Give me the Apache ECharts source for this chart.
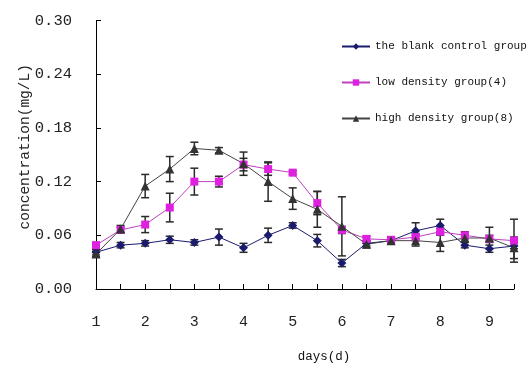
<!DOCTYPE html>
<html><head><meta charset="utf-8">
<script src="https://cdn.jsdelivr.net/npm/echarts@6/dist/echarts.min.js"></script>
<style>html,body{margin:0;padding:0;background:#fff}#c{width:531px;height:368px}</style>
</head><body><div id="c"></div>
<script>
const days = [1,1.5,2,2.5,3,3.5,4,4.5,5,5.5,6,6.5,7,7.5,8,8.5,9,9.5];
const xTickLabels = ['1','2','3','4','5','6','7','8','9'];
const seriesNames = ['the blank control group','low density group(4)','high density group(8)'];
const blank = [0.041,0.049,0.051,0.055,0.052,0.058,0.046,0.060,0.071,0.054,0.029,0.051,0.054,0.065,0.071,0.049,0.045,0.048];
const blankErr = [0.003,0.003,0.003,0.004,0.003,0.009,0.005,0.008,0.003,0.007,0.004,0.003,0.003,0.009,0.007,0.003,0.004,0.003];
const low = [0.049,0.066,0.072,0.091,0.120,0.120,0.139,0.134,0.130,0.096,0.066,0.056,0.055,0.058,0.064,0.060,0.056,0.054];
const lowErr = [0.003,0.003,0.009,0.016,0.015,0.006,0.007,0.007,0.002,0.013,0.004,0.003,0.003,0.004,0.004,0.004,0.004,0.024];
const high = [0.039,0.067,0.115,0.134,0.157,0.155,0.140,0.120,0.101,0.089,0.070,0.050,0.054,0.054,0.052,0.057,0.057,0.046];
const highErr = [0.003,0.004,0.013,0.014,0.007,0.003,0.013,0.022,0.012,0.020,0.033,0.004,0.004,0.006,0.010,0.004,0.012,0.012];

const chart = echarts.init(document.getElementById('c'));
const mono = 'Liberation Mono';
function pts(v){ return days.map((d,i)=>[d,v[i]]); }
function errData(v,e){ return days.map((d,i)=>[d,v[i]-e[i],v[i]+e[i]]); }
function errSeries(v,e){
  return {
    type:'custom', silent:true, z:1,
    data: errData(v,e),
    renderItem: function(params, api){
      const x = api.value(0);
      const lo = api.coord([x, api.value(1)]);
      const hi = api.coord([x, api.value(2)]);
      const w = 4;
      const st = {stroke:'#2a2a2a', lineWidth:1.5};
      return {type:'group', children:[
        {type:'line', shape:{x1:lo[0],y1:lo[1],x2:hi[0],y2:hi[1]}, style:st},
        {type:'line', shape:{x1:lo[0]-w,y1:lo[1],x2:lo[0]+w,y2:lo[1]}, style:st},
        {type:'line', shape:{x1:hi[0]-w,y1:hi[1],x2:hi[0]+w,y2:hi[1]}, style:st}
      ]};
    }
  };
}
const colors = ['#1b1b6e','#e020e0','#333333'];
chart.setOption({
  animation:false,
  backgroundColor:'#ffffff',
  grid:{left:96, right:17, top:20.5, bottom:77},
  legend:{
    data:seriesNames, orient:'vertical', left:336, top:36,
    itemWidth:28, itemHeight:8, itemGap:25,
    textStyle:{fontFamily:mono, fontSize:11, color:'#111'}
  },
  xAxis:{
    type:'value', min:1, max:9.5, interval:0.5,
    name:'days(d)', nameLocation:'middle', nameGap:61,
    nameTextStyle:{fontFamily:mono, fontSize:12.5, color:'#111', padding:[0,0,0,38]},
    axisLine:{lineStyle:{color:'#000', width:1}},
    axisTick:{inside:true, length:5, lineStyle:{color:'#000'}},
    splitLine:{show:false},
    axisLabel:{margin:26, fontFamily:mono, fontSize:15, color:'#222',
      formatter:function(v){ const i = xTickLabels.indexOf(String(v)); return i>=0 ? xTickLabels[i] : ''; }}
  },
  yAxis:{
    type:'value', min:0, max:0.30, interval:0.06,
    name:'concentration(mg/L)', nameLocation:'middle', nameGap:63, nameRotate:90,
    nameMoveOverlap:false,
    nameTextStyle:{fontFamily:mono, fontSize:14.5, color:'#222', padding:[0,0,0,16]},
    axisLine:{show:true, lineStyle:{color:'#000', width:1}},
    axisTick:{show:true, inside:true, length:5, lineStyle:{color:'#000'}},
    splitLine:{show:false},
    axisLabel:{margin:24, fontFamily:mono, fontSize:15.5, color:'#222',
      formatter:function(v){ return v.toFixed(2); }}
  },
  series:[
    errSeries(blank,blankErr), errSeries(low,lowErr), errSeries(high,highErr),
    {name:seriesNames[0], type:'line', data:pts(blank), symbol:'diamond', symbolSize:9, z:3,
      itemStyle:{color:colors[0]}, lineStyle:{color:colors[0], width:1}},
    {name:seriesNames[1], type:'line', data:pts(low), symbol:'rect', symbolSize:8, z:3,
      itemStyle:{color:colors[1]}, lineStyle:{color:'#c040c0', width:1}},
    {name:seriesNames[2], type:'line', data:pts(high), symbol:'triangle', symbolSize:9, z:3,
      itemStyle:{color:colors[2]}, lineStyle:{color:'#444444', width:1}}
  ]
});
</script></body></html>
